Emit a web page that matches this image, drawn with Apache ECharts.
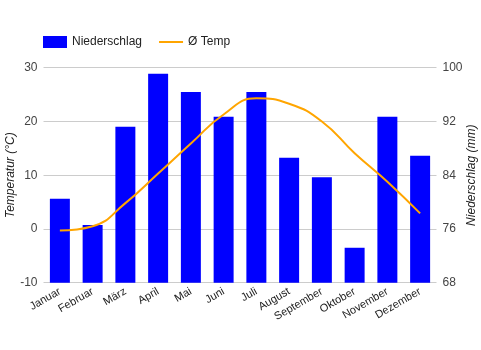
<!DOCTYPE html>
<html>
<head>
<meta charset="utf-8">
<script src="https://cdn.jsdelivr.net/npm/echarts@6/dist/echarts.min.js"></script>
<style>
  html, body { margin: 0; padding: 0; background: #fff; }
  #main { width: 481px; height: 350px; }
</style>
</head>
<body>
<div id="main"></div>
<script>
// Monate
var monate = ['Januar', 'Februar', 'März', 'April', 'Mai', 'Juni', 'Juli', 'August', 'September', 'Oktober', 'November', 'Dezember'];
// Niederschlag in mm
var niederschlag = [80.5, 76.6, 91.2, 99.1, 96.4, 92.7, 96.4, 86.6, 83.7, 73.2, 92.7, 86.9];
// Durchschnittstemperatur in °C
var temp = [-0.3, 0.5, 4.8, 10.3, 15.9, 21.3, 24.3, 23.3, 20.0, 14.1, 8.8, 2.9];
// Achsen-Ticks
var tempTicks = [-10, 0, 10, 20, 30];
var mmTicks = [68, 76, 84, 92, 100];

var myChart = echarts.init(document.getElementById('main'));
var labelFont = 'Liberation Sans, Arial, sans-serif';

myChart.setOption({
    animation: false,
    legend: {
        left: 43,
        top: 36,
        padding: 0,
        itemWidth: 24,
        itemHeight: 12,
        itemGap: 16,
        textStyle: { fontFamily: labelFont, fontSize: 12, color: '#222' },
        data: [
            { name: 'Niederschlag', icon: 'rect' },
            { name: 'Ø Temp', itemStyle: { opacity: 0 } }
        ]
    },
    grid: { left: 43.5, right: 44.5, top: 67.7, bottom: 67.3, containLabel: false, outerBoundsMode: 'none' },
    xAxis: {
        type: 'category',
        data: monate,
        axisLine: { show: false },
        axisTick: { show: false },
        axisLabel: {
            rotate: 30,
            interval: 0,
            margin: 8,
            fontFamily: labelFont,
            fontSize: 11,
            color: '#222'
        }
    },
    yAxis: [
        {
            type: 'value',
            min: tempTicks[0],
            max: tempTicks[tempTicks.length - 1],
            interval: 10,
            name: 'Temperatur (°C)',
            nameLocation: 'middle',
            nameRotate: 90,
            nameGap: 27,
            nameMoveOverlap: false,
            nameTextStyle: { fontFamily: labelFont, fontSize: 12, fontStyle: 'italic', color: '#222' },
            axisLabel: { fontFamily: labelFont, fontSize: 12, color: '#444', margin: 6 },
            splitLine: { lineStyle: { color: '#ccc' } },
            axisLine: { show: false },
            axisTick: { show: false }
        },
        {
            type: 'value',
            min: mmTicks[0],
            max: mmTicks[mmTicks.length - 1],
            interval: 8,
            position: 'right',
            name: 'Niederschlag (mm)',
            nameLocation: 'middle',
            nameRotate: 90,
            nameGap: 29,
            nameMoveOverlap: false,
            nameTextStyle: { fontFamily: labelFont, fontSize: 12, fontStyle: 'italic', color: '#222' },
            axisLabel: { fontFamily: labelFont, fontSize: 12, color: '#444', margin: 6 },
            splitLine: { show: false },
            axisLine: { show: false },
            axisTick: { show: false }
        }
    ],
    series: [
        {
            name: 'Niederschlag',
            type: 'bar',
            yAxisIndex: 1,
            data: niederschlag,
            barWidth: '61%',
            itemStyle: { color: '#0000ff' }
        },
        {
            name: 'Ø Temp',
            type: 'line',
            yAxisIndex: 0,
            data: temp,
            smooth: 0.5,
            showSymbol: false,
            symbol: 'none',
            lineStyle: { color: '#ffa500', width: 2 },
            itemStyle: { color: '#ffa500' }
        }
    ]
});
</script>
</body>
</html>
